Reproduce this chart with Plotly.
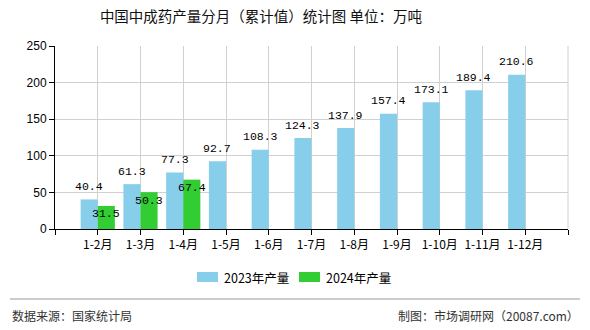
import plotly.graph_objects as go

categories = ["1-2月", "1-3月", "1-4月", "1-5月", "1-6月", "1-7月", "1-8月", "1-9月", "1-10月", "1-11月", "1-12月"]
values_2023 = [40.4, 61.3, 77.3, 92.7, 108.3, 124.3, 137.9, 157.4, 173.1, 189.4, 210.6]
values_2024 = [31.5, 50.3, 67.4]
series_names = ["2023年产量", "2024年产量"]
series_colors = ["#87CEEB", "#32CD32"]
y_ticks = [0, 50, 100, 150, 200, 250]

W, H = 590, 330
L, R, T, B = 55, 568, 46, 229
PW, PH = R - L, B - T

def px(x):
    return (x - L) / PW

def py(y):
    return (B - y) / PH

label_font = dict(family="Liberation Mono, DejaVu Sans Mono, monospace", size=11.5, color="#000")
cjk = "Noto Sans CJK SC, sans-serif"

x23 = list(range(len(values_2023)))
x24 = list(range(len(values_2024)))

fig = go.Figure()
fig.add_trace(go.Bar(x=x23, y=values_2023, name=series_names[0],
                     marker=dict(color=series_colors[0], line=dict(width=0))))
fig.add_trace(go.Bar(x=x24, y=values_2024, name=series_names[1],
                     marker=dict(color=series_colors[1], line=dict(width=0))))

annotations = []
for i, v in enumerate(values_2023):
    annotations.append(dict(x=i - 0.2, y=v, xref="x", yref="y", text=f"{v:.1f}",
                            showarrow=False, yshift=13, font=label_font))
for i, v in enumerate(values_2024):
    annotations.append(dict(x=i + 0.2, y=v, xref="x", yref="y", text=f"{v:.1f}",
                            showarrow=False, yshift=-8, font=label_font))

annotations.append(dict(x=px(10), y=py(315), xref="paper", yref="paper",
                        text="数据来源：国家统计局", showarrow=False,
                        xanchor="left", yanchor="middle",
                        font=dict(family=cjk, size=12, color="#333")))
annotations.append(dict(x=px(581), y=py(315), xref="paper", yref="paper",
                        text="制图：市场调研网（20087.com）", showarrow=False,
                        xanchor="right", yanchor="middle",
                        font=dict(family=cjk, size=12, color="#333")))

shapes = [dict(type="line", xref="paper", yref="paper",
               x0=px(10), x1=px(580), y0=py(299), y1=py(299),
               line=dict(color="#999", width=1)),
          dict(type="line", xref="paper", yref="paper",
               x0=1, x1=1, y0=0, y1=1, line=dict(color="#d0d0d0", width=1))]

# custom legend (wide swatches as in reference)
legend_x = [197, 299]
for name, color, lx in zip(series_names, series_colors, legend_x):
    shapes.append(dict(type="rect", xref="paper", yref="paper",
                       x0=px(lx), x1=px(lx + 21), y0=py(282), y1=py(272),
                       fillcolor=color, line=dict(width=0)))
    annotations.append(dict(x=px(lx + 25), y=py(277), xref="paper", yref="paper",
                            text=name, showarrow=False, xanchor="left", yanchor="middle",
                            font=dict(family=cjk, size=12.5, color="#000")))

tickvals = list(range(-1, len(categories) + 1))
ticktext = [""] + categories + [""]

fig.update_layout(
    width=W, height=H,
    margin=dict(l=L, r=W - R, t=T, b=H - B, pad=0),
    paper_bgcolor="white", plot_bgcolor="white",
    barmode="group", bargap=0.2, bargroupgap=0,
    title=dict(text="中国中成药产量分月（累计值）统计图 单位：万吨",
               x=261 / W, xref="container", xanchor="center",
               y=1 - 17 / H, yref="container", yanchor="middle",
               font=dict(family=cjk, size=14.5, color="#111")),
    xaxis=dict(range=[-1, len(categories)], tickvals=tickvals, ticktext=ticktext,
               showgrid=True, gridcolor="#d0d0d0", gridwidth=1,
               showline=True, linecolor="#000", linewidth=1,
               ticks="outside", ticklen=5, tickcolor="#000",
               tickfont=dict(family=cjk, size=12, color="#000"),
               zeroline=False, fixedrange=True),
    yaxis=dict(range=[0, 250], tickvals=y_ticks,
               showgrid=True, gridcolor="#d0d0d0", gridwidth=1,
               showline=True, linecolor="#000", linewidth=1,
               ticks="outside", ticklen=5, tickcolor="#000",
               tickfont=dict(family="Liberation Sans, Arial, sans-serif", size=12, color="#000"),
               zeroline=False, fixedrange=True),
    annotations=annotations,
    shapes=shapes,
    showlegend=False,
    hovermode=False,
)

fig.write_html("out.html")
